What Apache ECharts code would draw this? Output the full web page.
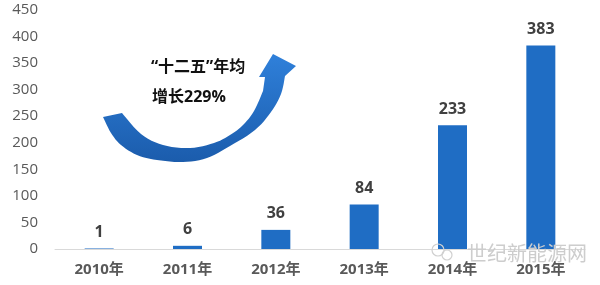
<!DOCTYPE html>
<html><head><meta charset="utf-8">
<script src="https://cdn.jsdelivr.net/npm/echarts@6/dist/echarts.min.js"></script>
<style>html,body{margin:0;padding:0;background:#fff}#c{width:600px;height:285px}</style>
</head><body><div id="c"></div>
<script>
var categories = ['2010年','2011年','2012年','2013年','2014年','2015年'];
var values = [1, 6, 36, 84, 233, 383];
var yTicks = {min: 0, max: 450, interval: 50};
var noteLine1 = '“十二五”年均';
var noteLine2 = '增长229%';
var watermark = '世纪新能源网';

var FONT = "'Open Sans','Noto Sans CJK SC',sans-serif";

// decorative curved arrow outline (Catmull-Rom smoothing of guide points)
function smooth(pts, n) {
  var out = [];
  for (var i = 0; i < pts.length - 1; i++) {
    var p0 = pts[Math.max(i - 1, 0)], p1 = pts[i], p2 = pts[i + 1], p3 = pts[Math.min(i + 2, pts.length - 1)];
    for (var k = 0; k < n; k++) {
      var t = k / n, t2 = t * t, t3 = t2 * t;
      out.push([0, 1].map(function (d) {
        return 0.5 * ((2 * p1[d]) + (-p0[d] + p2[d]) * t + (2 * p0[d] - 5 * p1[d] + 4 * p2[d] - p3[d]) * t2 + (-p0[d] + 3 * p1[d] - 3 * p2[d] + p3[d]) * t3);
      }));
    }
  }
  out.push(pts[pts.length - 1]);
  return out;
}
var outerEdge = [[103,117],[111,133],[121,145],[137,155],[157,160],[183,162],[207,158],[230,146],[255,130],[271,112],[281,94],[285,76]];
var headEdge = [[296,66],[273,54],[259,77],[265,77]];
var innerEdge = [[263,91],[254,111],[243,125],[230,135],[214,143],[190,148],[163,145],[141,134],[122,113]];
var arrowPts = smooth(outerEdge, 6).concat(headEdge).concat(smooth(innerEdge, 6));

var chart = echarts.init(document.getElementById('c'));
chart.setOption({
  animation: false,
  grid: {left: 55, right: 15, top: 10, bottom: 36},
  xAxis: {
    type: 'category', data: categories,
    axisLine: {lineStyle: {color: '#d9d9d9', width: 1}},
    axisTick: {show: false},
    axisLabel: {color: '#595959', fontSize: 15, fontWeight: 'bold', margin: 13, fontFamily: FONT}
  },
  yAxis: {
    type: 'value', min: yTicks.min, max: yTicks.max, interval: yTicks.interval,
    axisLine: {show: false}, axisTick: {show: false}, splitLine: {show: false},
    axisLabel: {color: '#595959', fontSize: 15, margin: 17, fontFamily: FONT}
  },
  series: [{
    type: 'bar', data: values, barWidth: 29,
    itemStyle: {color: '#1f6dc4'},
    label: {show: true, position: 'top', distance: 8, color: '#404040', fontSize: 16, fontWeight: 'bold', fontFamily: FONT}
  }],
  graphic: [
    {
      type: 'polygon', z: 10,
      shape: {points: arrowPts},
      style: {fill: {type: 'linear', x: 0, y: 1, x2: 0, y2: 0, colorStops: [
        {offset: 0, color: '#1b5cac'}, {offset: 1, color: '#2f80da'}
      ]}}
    },
    {type: 'text', left: 151, top: 59, z: 11,
     style: {text: noteLine1, fill: '#111', font: "bold 16px " + FONT}},
    {type: 'text', left: 152, top: 89, z: 11,
     style: {text: noteLine2, fill: '#111', font: "bold 16px " + FONT}},
    {type: 'text', left: 467, top: 243, z: 11,
     style: {text: watermark, fill: '#cdcdcd', font: "20px 'Noto Sans CJK SC',sans-serif"}},
    {type: 'circle', shape: {cx: 438, cy: 250, r: 6}, z: 11,
     style: {fill: 'transparent', stroke: '#d0d0d0', lineWidth: 1.2}},
    {type: 'circle', shape: {cx: 447, cy: 255, r: 5}, z: 11,
     style: {fill: 'transparent', stroke: '#d0d0d0', lineWidth: 1.2}}
  ]
});
</script></body></html>
